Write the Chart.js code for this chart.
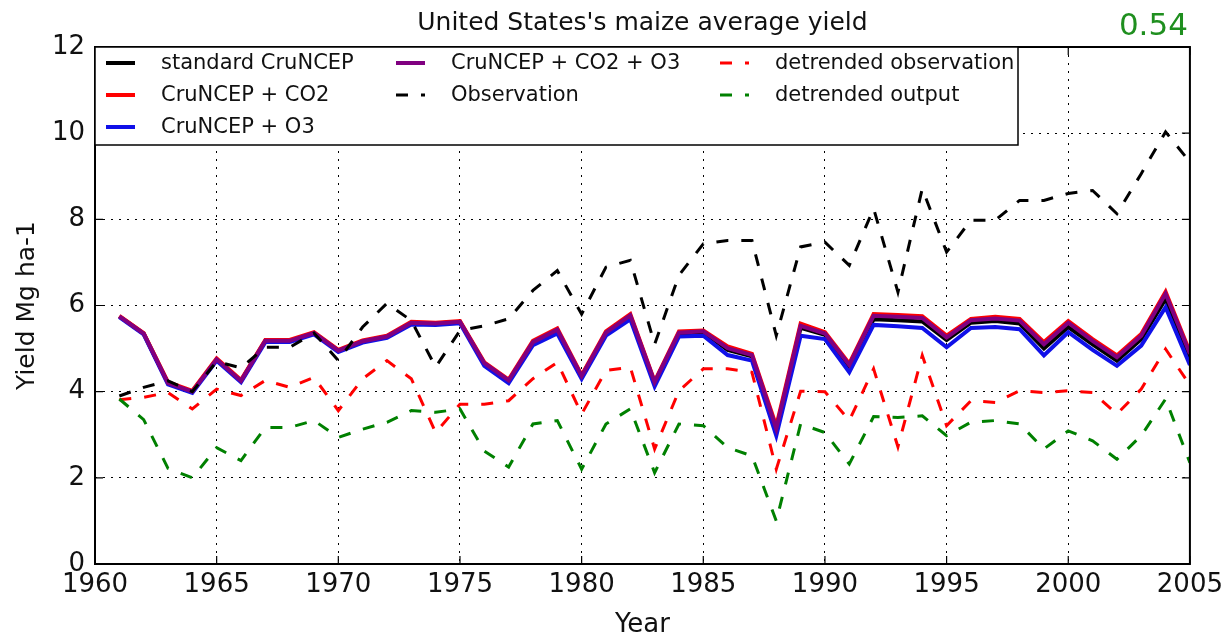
<!DOCTYPE html>
<html>
<head>
<meta charset="utf-8">
<script src="https://cdn.jsdelivr.net/npm/chart.js@4"></script>
<style>
html, body { margin: 0; padding: 0; background: #fff; }
#wrap { width: 1229px; height: 641px; }
</style>
</head>
<body>
<div id="wrap"><canvas id="yieldChart"></canvas></div>
<script>
// values (Mg ha-1)
const years = [1961,1962,1963,1964,1965,1966,1967,1968,1969,1970,1971,1972,1973,1974,1975,1976,1977,1978,1979,1980,1981,1982,1983,1984,1985,1986,1987,1988,1989,1990,1991,1992,1993,1994,1995,1996,1997,1998,1999,2000,2001,2002,2003,2004,2005];

const standardCru = [5.75,5.35,4.2,4.0,4.75,4.25,5.18,5.18,5.36,4.95,5.17,5.28,5.6,5.58,5.62,4.65,4.25,5.12,5.42,4.35,5.35,5.75,4.2,5.35,5.38,4.97,4.82,3.08,5.48,5.32,4.58,5.68,5.66,5.63,5.2,5.6,5.64,5.58,5.0,5.5,5.1,4.72,5.22,6.15,4.8];
const cruCO2 = [5.76,5.36,4.22,4.02,4.77,4.27,5.2,5.2,5.38,4.97,5.19,5.3,5.62,5.6,5.64,4.68,4.28,5.18,5.47,4.38,5.4,5.8,4.24,5.4,5.42,5.05,4.88,3.2,5.58,5.38,4.65,5.8,5.78,5.75,5.3,5.69,5.74,5.69,5.15,5.64,5.22,4.84,5.34,6.32,4.92];
const cruO3 = [5.73,5.33,4.17,3.97,4.72,4.22,5.15,5.15,5.33,4.92,5.14,5.25,5.56,5.55,5.59,4.6,4.2,5.08,5.35,4.3,5.3,5.68,4.12,5.28,5.3,4.85,4.72,2.98,5.3,5.22,4.45,5.55,5.52,5.48,5.03,5.48,5.5,5.45,4.84,5.38,4.97,4.6,5.07,5.96,4.62];
const cruCO2O3 = [5.75,5.35,4.2,4.0,4.75,4.25,5.18,5.18,5.36,4.95,5.17,5.28,5.6,5.58,5.62,4.66,4.26,5.15,5.44,4.36,5.37,5.77,4.22,5.37,5.4,5.01,4.85,3.14,5.53,5.35,4.62,5.76,5.74,5.71,5.26,5.66,5.7,5.65,5.1,5.6,5.18,4.8,5.3,6.27,4.88];
const observation = [3.9,4.1,4.25,4.0,4.7,4.55,5.03,5.03,5.36,4.72,5.5,6.05,5.65,4.57,5.42,5.53,5.69,6.35,6.81,5.8,6.89,7.05,5.1,6.7,7.43,7.51,7.51,5.3,7.36,7.47,6.93,8.25,6.31,8.71,7.24,7.98,7.98,8.44,8.44,8.6,8.67,8.13,9.06,10.03,9.33];
const detrendedObs = [3.81,3.87,3.98,3.6,4.06,3.91,4.26,4.1,4.33,3.56,4.3,4.72,4.3,3.05,3.71,3.71,3.79,4.3,4.68,3.48,4.49,4.57,2.67,4.02,4.53,4.53,4.45,2.2,4.01,4.0,3.33,4.53,2.72,4.84,3.21,3.79,3.75,4.02,3.98,4.02,3.98,3.48,4.06,4.99,4.15];
const detrendedOut = [3.83,3.35,2.22,2.0,2.7,2.4,3.17,3.17,3.33,2.94,3.13,3.29,3.56,3.52,3.6,2.62,2.25,3.25,3.33,2.2,3.25,3.6,2.12,3.25,3.21,2.7,2.51,1.0,3.25,3.05,2.32,3.42,3.4,3.44,2.98,3.29,3.33,3.25,2.67,3.09,2.86,2.43,2.98,3.83,2.35];

const xTicks = [1960,1965,1970,1975,1980,1985,1990,1995,2000,2005];
const yTicks = [0,2,4,6,8,10,12];
const scoreText = '0.54';

const FONT = 'DejaVu Sans, Verdana, sans-serif';
const DASH = [12, 13];

function pts(vals) {
    return vals.map((v, i) => ({ x: years[i], y: v }));
}

const series = [
    { label: 'standard CruNCEP', data: standardCru, color: '#000000', dash: [] },
    { label: 'CruNCEP + CO2', data: cruCO2, color: '#ff0000', dash: [] },
    { label: 'CruNCEP + O3', data: cruO3, color: '#1010e8', dash: [] },
    { label: 'CruNCEP + CO2 + O3', data: cruCO2O3, color: '#800080', dash: [] },
    { label: 'Observation', data: observation, color: '#000000', dash: DASH },
    { label: 'detrended observation', data: detrendedObs, color: '#ff0000', dash: DASH },
    { label: 'detrended output', data: detrendedOut, color: '#008000', dash: DASH }
];

// axes box, inward ticks, legend, title and score
const framePlugin = {
    id: 'frame',
    afterDatasetsDraw(chart) {
        const ctx = chart.ctx;
        const a = chart.chartArea;
        const xs = chart.scales.x, ys = chart.scales.y;
        ctx.save();
        ctx.setLineDash([]);
        ctx.strokeStyle = '#000';
        ctx.lineWidth = 1.2;
        xTicks.forEach(v => {
            const px = xs.getPixelForValue(v);
            ctx.beginPath();
            ctx.moveTo(px, a.bottom); ctx.lineTo(px, a.bottom - 8);
            ctx.moveTo(px, a.top); ctx.lineTo(px, a.top + 8);
            ctx.stroke();
        });
        yTicks.forEach(v => {
            const py = ys.getPixelForValue(v);
            ctx.beginPath();
            ctx.moveTo(a.left, py); ctx.lineTo(a.left + 8, py);
            ctx.moveTo(a.right, py); ctx.lineTo(a.right - 8, py);
            ctx.stroke();
        });
        ctx.lineWidth = 2;
        ctx.strokeRect(a.left, a.top, a.right - a.left, a.bottom - a.top);

        // legend
        const lx = a.left, ly = a.top, lw = 923, lh = 98;
        ctx.fillStyle = '#fff';
        ctx.fillRect(lx, ly, lw, lh);
        ctx.lineWidth = 1.5;
        ctx.strokeRect(lx, ly, lw, lh);
        const colX = [lx + 11, lx + 301, lx + 625];
        const rowY = [ly + 16, ly + 48, ly + 80];
        const layout = [[0, 0], [0, 1], [0, 2], [1, 0], [1, 1], [2, 0], [2, 1]];
        ctx.font = '21px ' + FONT;
        ctx.textBaseline = 'middle';
        ctx.textAlign = 'left';
        series.forEach((s, i) => {
            const [c, r] = layout[i];
            const x0 = colX[c], y0 = rowY[r];
            ctx.beginPath();
            ctx.strokeStyle = s.color;
            ctx.lineWidth = s.dash.length ? 3 : 4;
            ctx.setLineDash(s.dash);
            ctx.moveTo(x0, y0);
            ctx.lineTo(x0 + 29, y0);
            ctx.stroke();
            ctx.setLineDash([]);
            ctx.fillStyle = '#111';
            ctx.fillText(s.label, x0 + 55, y0 + 1);
        });

        // title and score
        ctx.textAlign = 'center';
        ctx.fillStyle = '#111';
        ctx.font = '25px ' + FONT;
        ctx.fillText("United States's maize average yield", (a.left + a.right) / 2, 23);
        ctx.textAlign = 'right';
        ctx.fillStyle = '#1f8f1f';
        ctx.font = '31px ' + FONT;
        ctx.fillText(scoreText, a.right - 2, 27);
        ctx.restore();
    }
};

const ctx = document.getElementById('yieldChart').getContext('2d');

new Chart(ctx, {
    type: 'line',
    data: {
        datasets: series.map((s, i) => ({
            label: s.label,
            data: pts(s.data),
            borderColor: s.color,
            backgroundColor: s.color,
            borderWidth: s.dash.length ? 3 : 4,
            borderDash: s.dash,
            pointRadius: 0,
            tension: 0,
            fill: false,
            order: series.length - i
        }))
    },
    options: {
        responsive: true,
        maintainAspectRatio: false,
        animation: false,
        devicePixelRatio: 1,
        layout: {
            padding: { top: 47, right: 38, bottom: 0, left: 0 }
        },
        plugins: {
            legend: { display: false },
            tooltip: { enabled: false },
            title: { display: false }
        },
        scales: {
            x: {
                type: 'linear',
                min: 1960,
                max: 2005,
                afterBuildTicks: s => { s.ticks = xTicks.map(v => ({ value: v })); },
                afterFit: s => { s.height = 77; },
                grid: { color: '#000', lineWidth: 1, drawTicks: false },
                border: { display: false, dash: [2, 6] },
                ticks: {
                    color: '#111',
                    font: { family: FONT, size: 26 },
                    padding: 6,
                    maxRotation: 0,
                    autoSkip: false,
                    callback: v => String(v)
                },
                title: {
                    display: true,
                    text: 'Year',
                    color: '#111',
                    font: { family: FONT, size: 26 },
                    padding: { top: 0, bottom: 0 }
                }
            },
            y: {
                min: 0,
                max: 12,
                afterBuildTicks: s => { s.ticks = yTicks.map(v => ({ value: v })); },
                afterFit: s => { s.width = 95; },
                grid: { color: '#000', lineWidth: 1, drawTicks: false },
                border: { display: false, dash: [2, 6] },
                ticks: {
                    color: '#111',
                    font: { family: FONT, size: 26 },
                    padding: 10,
                    callback: v => String(v)
                },
                title: {
                    display: true,
                    text: 'Yield Mg ha-1',
                    color: '#111',
                    font: { family: FONT, size: 25 },
                    padding: { top: 12, bottom: 0 }
                }
            }
        }
    },
    plugins: [framePlugin]
});
</script>
</body>
</html>
